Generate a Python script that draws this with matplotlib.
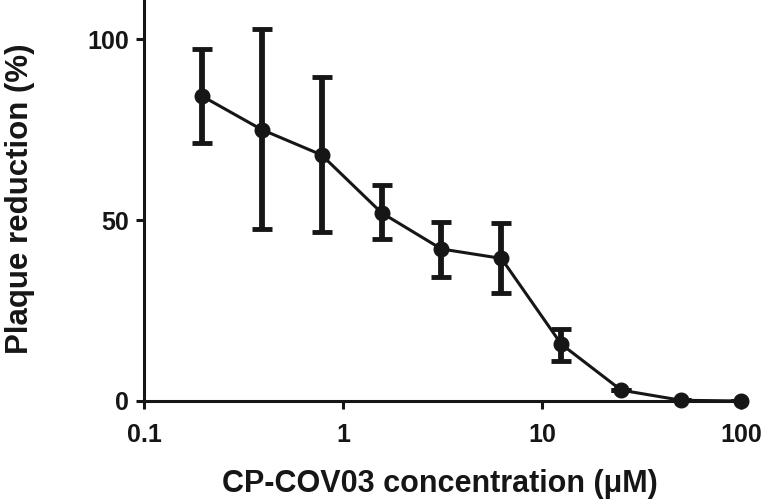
import matplotlib
matplotlib.use("Agg")
import matplotlib.pyplot as plt
from matplotlib.ticker import FixedLocator, NullLocator, FixedFormatter

conc = [0.195, 0.39, 0.78, 1.5625, 3.125, 6.25, 12.5, 25, 50, 100]
mean = [84.3, 75.0, 68.0, 52.0, 42.0, 39.4, 15.7, 3.0, 0.2, 0.0]
upper = [97.2, 102.7, 89.4, 59.7, 49.4, 49.3, 19.9, 3.0, 0.2, 0.0]
lower = [71.2, 47.4, 46.6, 44.9, 34.4, 29.8, 11.1, 3.0, 0.2, 0.0]
xticks = [0.1, 1, 10, 100]
xticklabels = ["0.1", "1", "10", "100"]
yticks = [0, 50, 100]

plt.rcParams['font.family'] = ['Liberation Sans', 'DejaVu Sans']
plt.rcParams['font.weight'] = 'bold'

fig = plt.figure(figsize=(7.66, 4.99), dpi=100)
ax = fig.add_axes([144/766, 1 - 401/499, (741 - 144)/766, 401/499])

c = '#161616'
yerr = [[m - l for m, l in zip(mean, lower)], [u - m for m, u in zip(mean, upper)]]
ax.errorbar(conc, mean, yerr=yerr, fmt='none', ecolor=c, elinewidth=4.2,
            capsize=7.5, capthick=3.5, zorder=2)
ax.plot(conc, mean, color=c, lw=2.2, marker='o', markersize=10.5, zorder=3,
        clip_on=False)

ax.set_xscale('log')
ax.set_xlim(0.1, 100)
ax.set_ylim(0, 110.8)
ax.xaxis.set_major_locator(FixedLocator(xticks))
ax.xaxis.set_major_formatter(FixedFormatter(xticklabels))
ax.xaxis.set_minor_locator(NullLocator())
ax.set_yticks(yticks)

for s in ['top', 'right']:
    ax.spines[s].set_visible(False)
for s in ['left', 'bottom']:
    ax.spines[s].set_linewidth(2.2)
    ax.spines[s].set_color(c)

ax.tick_params(axis='both', direction='out', length=6, width=2.2, color=c,
               labelsize=18, labelcolor=c)
ax.tick_params(axis='x', pad=10)
ax.tick_params(axis='y', pad=5)

ax.set_xlabel('CP-COV03 concentration (μM)', fontsize=22, fontweight='bold',
              color=c)
ax.set_ylabel('Plaque reduction (%)', fontsize=22.5, fontweight='bold',
              color=c)
ax.xaxis.set_label_coords(0.496, -0.17)
ax.yaxis.set_label_coords(-0.183, 0.505)

fig.savefig('out.png', dpi=100)
